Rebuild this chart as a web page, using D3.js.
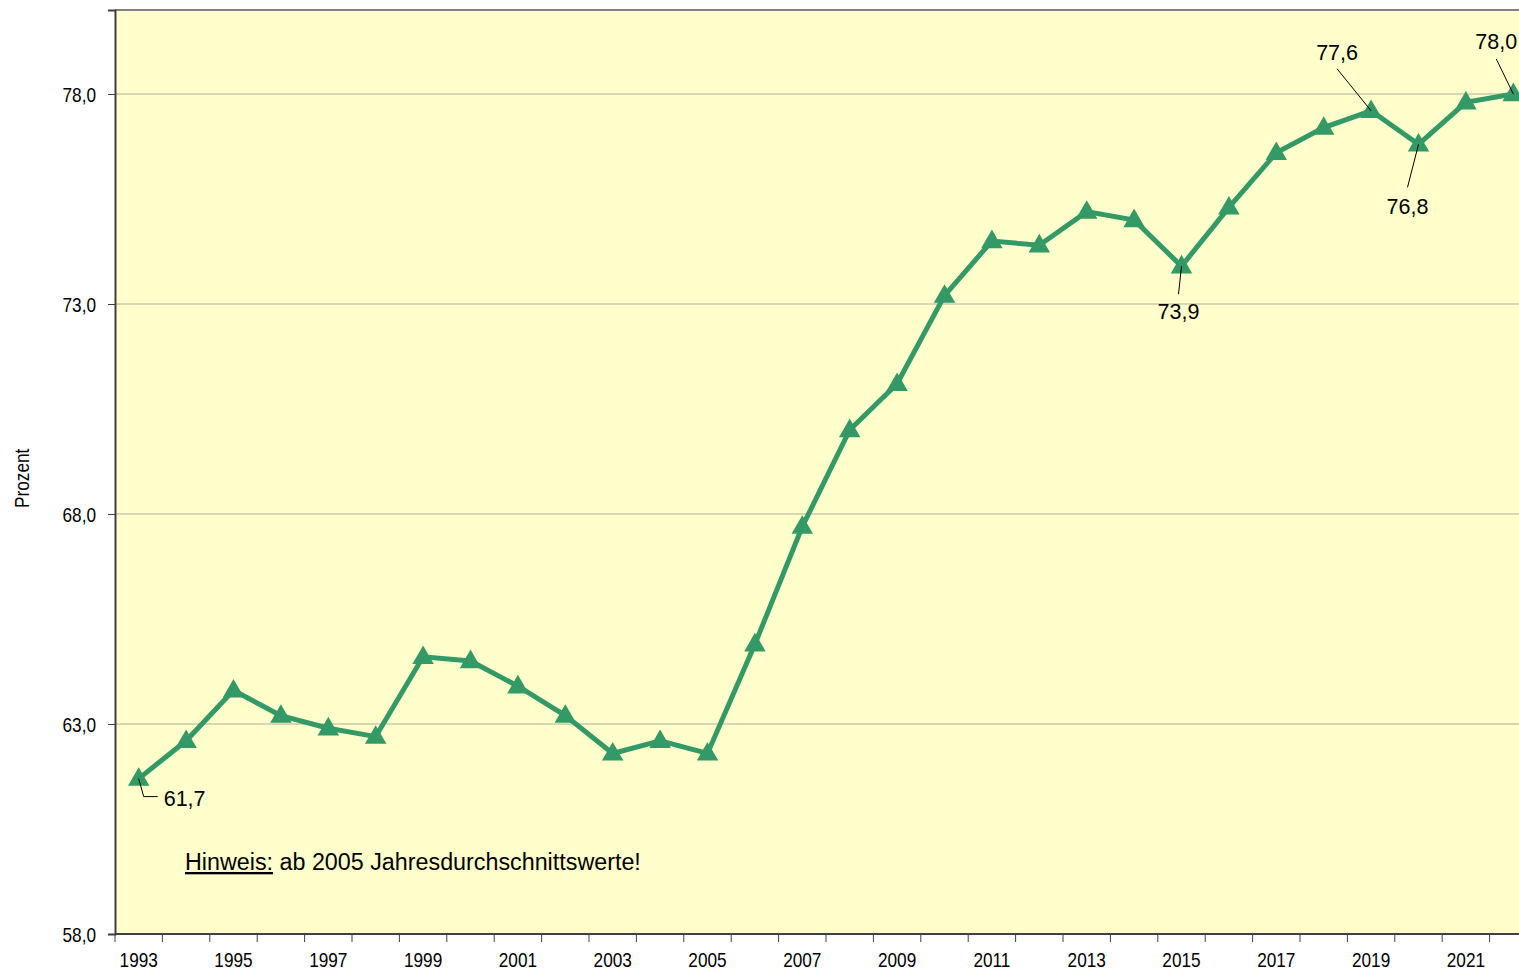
<!DOCTYPE html>
<html>
<head>
<meta charset="utf-8">
<script src="https://cdn.jsdelivr.net/npm/d3@7"></script>
<style>
  body { margin: 0; background: #ffffff; }
  svg { display: block; }
  text { font-family: "Liberation Sans", Arial, sans-serif; }
</style>
</head>
<body>
<svg id="chart"></svg>
<script>
const years = d3.range(1993, 2023);
const quote = [61.7, 62.6, 63.8, 63.2, 62.9, 62.7, 64.6, 64.5, 63.9, 63.2,
               62.3, 62.6, 62.3, 64.9, 67.7, 70.0, 71.1, 73.2, 74.5, 74.4,
               75.2, 75.0, 73.9, 75.3, 76.6, 77.2, 77.6, 76.8, 77.8, 78.0];
const yTicks = [58, 63, 68, 73, 78];
const xLabelYears = years.filter(y => (y - 1993) % 2 === 0);

// which points get a value label (offsets only for placement)
const callouts = [
  { year: 1993, elbow: true, lx: 5, ly: 18, tx: 25, ty: 27, anchor: 'start' },
  { year: 2015, lx: -3, ly: 28, tx: -3, ty: 53, anchor: 'middle' },
  { year: 2019, lx: -34, ly: -42, tx: -34, ty: -51, anchor: 'middle' },
  { year: 2020, lx: -11, ly: 43, tx: -11, ty: 70, anchor: 'middle' },
  { year: 2022, lx: -17, ly: -35, tx: -17, ty: -45, anchor: 'middle' }
];

const width = 1519, height = 971;
const margin = { top: 10, left: 115, bottom: 37 };
const plotRight = 115 + 30 * 47.4;
const narrow = 0.82;

const svg = d3.select('#chart')
  .attr('width', width)
  .attr('height', height);

const x = d3.scaleBand()
  .domain(years)
  .range([margin.left, plotRight]);

const y = d3.scaleLinear()
  .domain([58, 80])
  .range([height - margin.bottom, margin.top]);

const fmt = v => d3.format('.1f')(v).replace('.', ',');
const cx = yr => x(yr) + x.bandwidth() / 2;

// plot background
svg.append('rect')
  .attr('x', margin.left)
  .attr('y', margin.top)
  .attr('width', plotRight - margin.left)
  .attr('height', y(58) - margin.top)
  .attr('fill', '#ffffcc');

// gridlines
svg.append('g')
  .selectAll('line')
  .data(yTicks.slice(1))
  .enter().append('line')
  .attr('x1', margin.left)
  .attr('x2', plotRight)
  .attr('y1', d => y(d))
  .attr('y2', d => y(d))
  .attr('stroke', '#b3b09a')
  .attr('stroke-width', 1.2);

// top border
svg.append('line')
  .attr('x1', margin.left)
  .attr('x2', plotRight)
  .attr('y1', margin.top)
  .attr('y2', margin.top)
  .attr('stroke', '#808080')
  .attr('stroke-width', 2);

// y axis
const yAxis = d3.axisLeft(y)
  .tickValues(yTicks)
  .tickSize(7)
  .tickFormat('');

const gy = svg.append('g')
  .attr('transform', `translate(${margin.left}, 0)`)
  .call(yAxis);
gy.select('.domain').attr('stroke', '#404040').attr('stroke-width', 2);
gy.selectAll('.tick line').attr('stroke', '#404040');
gy.selectAll('.tick')
  .append('g')
  .attr('transform', `translate(-19, 0) scale(${narrow}, 1)`)
  .append('text')
  .attr('text-anchor', 'end')
  .attr('dy', '0.36em')
  .attr('font-size', 21)
  .attr('fill', '#000')
  .text(d => fmt(d));

// x axis: ticks on band boundaries, labels every other year
const boundaries = years.map(yr => x(yr)).concat([plotRight]);
const gx = svg.append('g')
  .attr('transform', `translate(0, ${y(58)})`);
gx.append('line')
  .attr('x1', margin.left)
  .attr('x2', plotRight)
  .attr('stroke', '#404040')
  .attr('stroke-width', 2);
gx.selectAll('.xt')
  .data(boundaries)
  .enter().append('line')
  .attr('class', 'xt')
  .attr('x1', d => d)
  .attr('x2', d => d)
  .attr('y1', 0)
  .attr('y2', 8)
  .attr('stroke', '#404040');
gx.selectAll('.xl')
  .data(xLabelYears)
  .enter().append('g')
  .attr('class', 'xl')
  .attr('transform', d => `translate(${cx(d)}, 33) scale(${narrow}, 1)`)
  .append('text')
  .attr('text-anchor', 'middle')
  .attr('font-size', 21)
  .text(d => d);

// y axis title
svg.append('g')
  .attr('transform', `translate(29, ${y(68.85)}) rotate(-90) scale(${narrow}, 1)`)
  .append('text')
  .attr('text-anchor', 'middle')
  .attr('font-size', 21)
  .text('Prozent');

// line
const line = d3.line()
  .x((d, i) => cx(years[i]))
  .y(d => y(d));

svg.append('path')
  .datum(quote)
  .attr('fill', 'none')
  .attr('stroke', '#339966')
  .attr('stroke-width', 5)
  .attr('stroke-linejoin', 'miter')
  .attr('d', line);

// triangle markers
const tri = d3.symbol().type(d3.symbolTriangle).size(200);
svg.selectAll('.marker')
  .data(quote)
  .enter().append('path')
  .attr('class', 'marker')
  .attr('d', tri)
  .attr('transform', (d, i) => `translate(${cx(years[i])}, ${y(d) + 1})`)
  .attr('fill', '#339966');

// value callouts
const cg = svg.append('g');
callouts.forEach(c => {
  const i = years.indexOf(c.year);
  const px = cx(c.year), py = y(quote[i]);
  if (c.elbow) {
    cg.append('path')
      .attr('d', `M${px},${py} L${px + c.lx},${py + c.ly} L${px + c.lx + 14},${py + c.ly}`)
      .attr('fill', 'none')
      .attr('stroke', '#000')
      .attr('stroke-width', 1);
  } else {
    cg.append('line')
      .attr('x1', px).attr('y1', py)
      .attr('x2', px + c.lx).attr('y2', py + c.ly)
      .attr('stroke', '#000')
      .attr('stroke-width', 1);
  }
  cg.append('text')
    .attr('x', px + c.tx)
    .attr('y', py + c.ty)
    .attr('text-anchor', c.anchor)
    .attr('font-size', 21.5)
    .text(fmt(quote[i]));
});

// note
const note = svg.append('text')
  .attr('x', 185)
  .attr('y', 870)
  .attr('font-size', 23.3);
note.append('tspan')
  .attr('text-decoration', 'underline')
  .text('Hinweis:');
note.append('tspan').text(' ab 2005 Jahresdurchschnittswerte!');
</script>
</body>
</html>
